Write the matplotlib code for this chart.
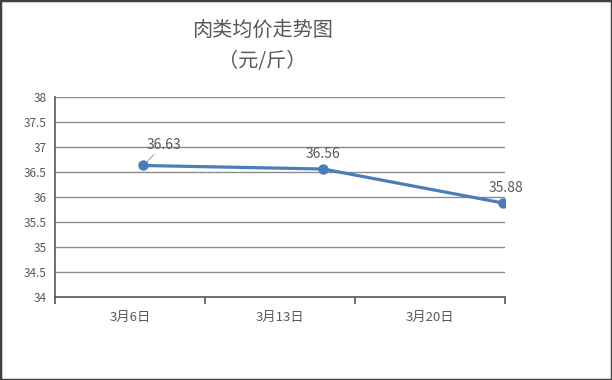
import matplotlib
matplotlib.use("Agg")
import matplotlib.pyplot as plt
from matplotlib.patches import Rectangle

plt.rcParams['font.family'] = ['Noto Sans CJK SC', 'DejaVu Sans']

# data
dates = ["3月6日", "3月13日", "3月20日"]
prices = [36.63, 36.56, 35.88]
y_ticks = [34, 34.5, 35, 35.5, 36, 36.5, 37, 37.5, 38]

text_color = "#595959"
line_color = "#4a7ebb"

fig = plt.figure(figsize=(6.12, 3.8), dpi=100)
ax = fig.add_axes([55 / 612, 83 / 380, 450 / 612, 200 / 380])

# category axis (labels sit between the boundary ticks)
ax.set_xlim(-0.5, len(dates) - 0.5)
ax.set_xticks([i - 0.5 for i in range(len(dates) + 1)])
ax.set_xticklabels([])
ax.set_xticks(range(len(dates)), minor=True)
ax.set_xticklabels(dates, minor=True)
ax.tick_params(axis="x", which="major", length=5, width=1.2, color="#595959")
ax.tick_params(axis="x", which="minor", length=0, pad=10, labelsize=9.5, labelcolor=text_color)

ax.set_ylim(34, 38)
ax.set_yticks(y_ticks)
ax.set_yticklabels([f"{v:g}" for v in y_ticks])
ax.tick_params(axis="y", length=0, pad=6, labelsize=8.5, labelcolor=text_color)
ax.grid(axis="y", color="#8c8c8c", linewidth=1)
ax.set_axisbelow(True)
for side in ("top", "right"):
    ax.spines[side].set_visible(False)
for side in ("left", "bottom"):
    ax.spines[side].set_color("#595959")
    ax.spines[side].set_linewidth(1.2)

# the line is drawn on its own x scale (points are offset in the original)
ax2 = ax.twiny()
ax2.set_xlim(-0.489, 2.011)
ax2.axis("off")
ax2.set_ylim(34, 38)
xs = range(len(prices))
ax2.plot(xs, prices, color=line_color, linewidth=2.3, marker="o", markersize=6.5)

# data labels
ax2.annotate(f"{prices[0]:.2f}", (0, prices[0]), xytext=(15, 10), textcoords="offset points",
             ha="center", va="bottom", fontsize=10, color=text_color,
             arrowprops=dict(arrowstyle="-", color="#a6a6a6", lw=0.8, shrinkA=0, shrinkB=4))
ax2.annotate(f"{prices[1]:.2f}", (1, prices[1]), xytext=(0, 6), textcoords="offset points",
             ha="center", va="bottom", fontsize=10, color=text_color)
ax2.annotate(f"{prices[2]:.2f}", (2, prices[2]), xytext=(2, 6), textcoords="offset points",
             ha="center", va="bottom", fontsize=10, color=text_color)

fig.text(262 / 612, 1 - 30 / 380, "肉类均价走势图", ha="center", va="center",
         fontsize=14.5, color=text_color)
fig.text(262 / 612, 1 - 61 / 380, "（元/斤）", ha="center", va="center",
         fontsize=14.5, color=text_color)

fig.patches.append(Rectangle((0, 0), 1, 1, transform=fig.transFigure, fill=False,
                             edgecolor="#404040", linewidth=2.5))

fig.savefig("out.png", dpi=100)
